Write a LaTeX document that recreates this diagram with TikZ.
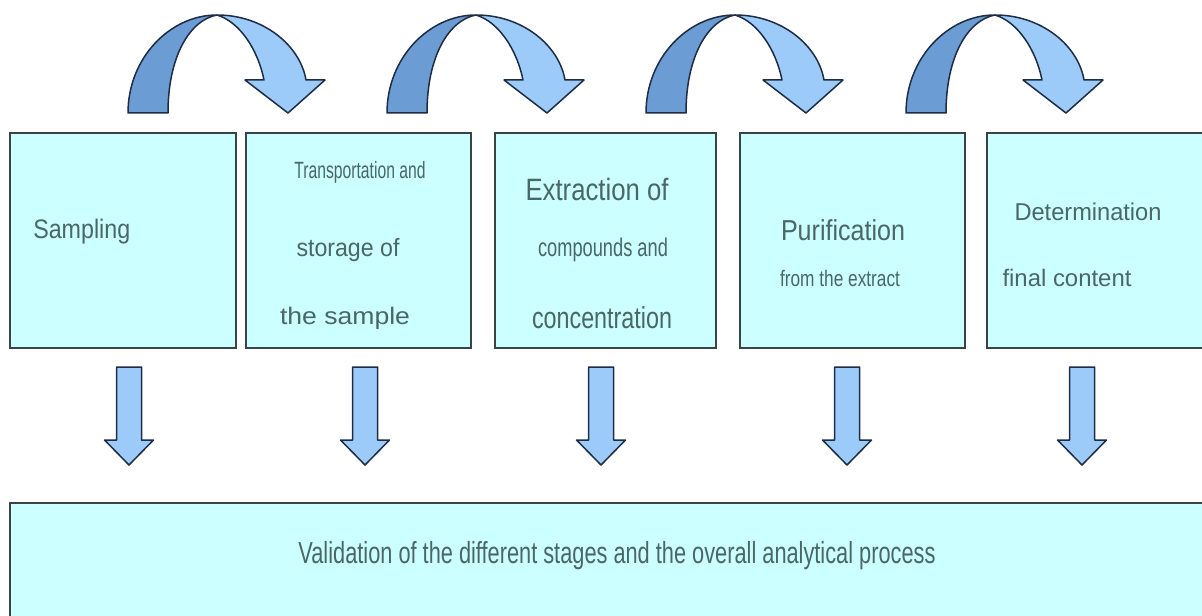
\documentclass[tikz,border=0pt]{standalone}
\usepackage{fontspec}
\setmainfont{Liberation Sans}
\usepackage{graphicx}
\newlength\pxu
\setlength\pxu{0.025cm}
% width in px, vertical stretch, text
\newcommand\fitw[3]{\scalebox{1}[#2]{\resizebox{#1\pxu}{!}{#3}}}
\definecolor{boxfill}{HTML}{CCFFFF}
\definecolor{edgegray}{HTML}{3A4444}
\definecolor{labelgray}{HTML}{4A6666}
\definecolor{backblue}{HTML}{6C9CD4}
\definecolor{frontblue}{HTML}{9CCBFA}
\definecolor{navyline}{HTML}{1E2C44}
\begin{document}
\begin{tikzpicture}[x=0.025cm,y=-0.025cm,
  stage/.style={draw=edgegray,line width=1.6\pxu,fill=boxfill,minimum height=215\pxu,inner sep=0},
  lbl/.style={text=labelgray,inner sep=0},
  backband/.style={draw=navyline,line width=1.5\pxu,fill=backblue,line join=round},
  frontband/.style={draw=navyline,line width=1.5\pxu,fill=frontblue,line join=round}]
\useasboundingbox (0,0) rectangle (1202,616);
\fill[white] (0,0) rectangle (1202,616);
\clip (0,0) rectangle (1202,616);
% stage boxes
\node[stage,minimum width=226\pxu] (samp) at (123,240.5) {};
\node[stage,minimum width=225\pxu] (trans) at (358.5,240.5) {};
\node[stage,minimum width=221\pxu] (extr) at (605.5,240.5) {};
\node[stage,minimum width=225\pxu] (puri) at (852.5,240.5) {};
\node[stage,minimum width=250\pxu] (dete) at (1112,240.5) {};
\node[stage,minimum width=1230\pxu,minimum height=150\pxu] (vali) at (625,578) {};
% box texts
\node[lbl,anchor=west] (samp-a) at (33,232) {\fitw{97}{1.15}{Sampling}};
\node[lbl] (trans-a) at (360,172) {\fitw{131}{1.5}{Transportation and}};
\node[lbl] (trans-b) at (348,250) {\fitw{103}{1.08}{storage of}};
\node[lbl] (trans-c) at (345,318) {\fitw{130}{0.9}{the sample}};
\node[lbl] (extr-a) at (597,189) {\fitw{143}{1.2}{Extraction of}};
\node[lbl] (extr-b) at (603,250) {\fitw{130}{1.4}{compounds and}};
\node[lbl] (extr-c) at (602,318) {\fitw{140}{1.3}{concentration}};
\node[lbl] (puri-a) at (843,230) {\fitw{124}{1.15}{Purification}};
\node[lbl] (puri-b) at (840,278) {\fitw{120}{1.3}{from the extract}};
\node[lbl] (dete-a) at (1088,212) {\fitw{147}{1.03}{Determination}};
\node[lbl] (dete-b) at (1067,278) {\fitw{129}{1}{final content}};
\node[lbl] (vali-a) at (617,556) {\fitw{637}{1.4}{Validation of the different stages and the overall analytical process}};
\foreach \x in {128,387,646,906} % curved arrows on top
{
\draw[shift={(\x,0)},backband] (0,113) .. controls (0,58) and (42,15) .. (89,15)
  .. controls (62,20) and (40,56) .. (40,113) -- cycle;
\draw[shift={(\x,0)},frontband] (89,15) .. controls (135,15) and (172,45) .. (178,80)
  -- (197,80) -- (160,113) -- (117,80) -- (136,80) .. controls (130,50) and (112,22) .. (89,15) -- cycle;
}
\foreach \x in {129,365,601,847,1082} % arrows down to the validation box
\draw[shift={(\x,0)},frontband] (-12.5,367) -- (12.5,367) -- (12.5,440) -- (24.5,440)
  -- (0,465) -- (-24.5,440) -- (-12.5,440) -- cycle;
\end{tikzpicture}
\end{document}
